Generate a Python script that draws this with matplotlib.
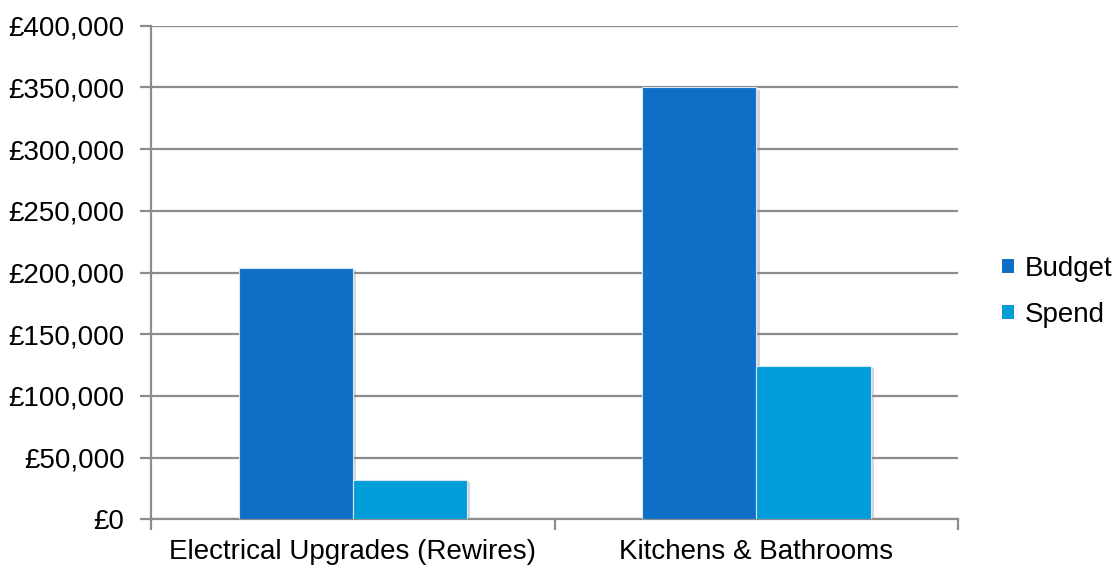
import matplotlib.pyplot as plt
import matplotlib.patheffects as pe
from matplotlib.ticker import FuncFormatter, MultipleLocator
import numpy as np

categorias = ['Electrical Upgrades (Rewires)', 'Kitchens & Bathrooms']
presupuesto = [204000, 350000]
gasto = [32000, 124000]
series = ['Budget', 'Spend']
colores = ['#0F6FC6', '#009DD9']

plt.rcParams['font.family'] = ['Liberation Sans', 'DejaVu Sans']
tam = 20

fig = plt.figure(figsize=(11.18, 5.68), dpi=100)
ax = fig.add_axes([0.135, 0.0857, 0.722, 0.869])

x = np.arange(len(categorias)) + 0.5
ancho = 0.283
sombra = [pe.SimplePatchShadow(offset=(2.5, -1.5), shadow_rgbFace='#888888', alpha=0.35), pe.Normal()]
for i, (valores, nombre) in enumerate(zip([presupuesto, gasto], series)):
    barras = ax.bar(x + (i - 0.5) * ancho, valores, ancho, color=colores[i],
                    edgecolor='#d6e6f5', linewidth=0.8, label=nombre, zorder=3)
    for b in barras:
        b.set_path_effects(sombra)

ax.set_xlim(0, len(categorias))
ax.set_ylim(0, 400000)
ax.yaxis.set_major_locator(MultipleLocator(50000))
ax.yaxis.set_major_formatter(FuncFormatter(lambda v, p: f'£{v:,.0f}'))
ax.grid(axis='y', color='#8c8c8c', linewidth=1.6, zorder=0)
ax.set_axisbelow(True)

# marcas mayores en los bordes de categoria, etiquetas en el centro
ax.set_xticks([0, 1, 2])
ax.set_xticklabels([])
ax.set_xticks(x, minor=True)
ax.set_xticklabels(categorias, minor=True)
ax.tick_params(axis='x', which='major', length=8, width=1.6, color='#8c8c8c', direction='out')
ax.tick_params(axis='x', which='minor', length=0, pad=14, labelsize=tam)
ax.tick_params(axis='y', length=8, width=1.6, color='#8c8c8c', pad=11, labelsize=tam)

for lado in ['top', 'right']:
    ax.spines[lado].set_visible(False)
for lado in ['left', 'bottom']:
    ax.spines[lado].set_color('#8c8c8c')
    ax.spines[lado].set_linewidth(1.6)

ley = ax.legend(loc='center left', bbox_to_anchor=(1.041, 0.461), frameon=False, fontsize=tam,
                handlelength=0.42, handleheight=0.42, handletextpad=0.4, labelspacing=0.72,
                borderaxespad=0)
for h in ley.legend_handles:
    h.set_path_effects([])
    h.set_edgecolor('none')

fig.savefig('out.png', dpi=100)
